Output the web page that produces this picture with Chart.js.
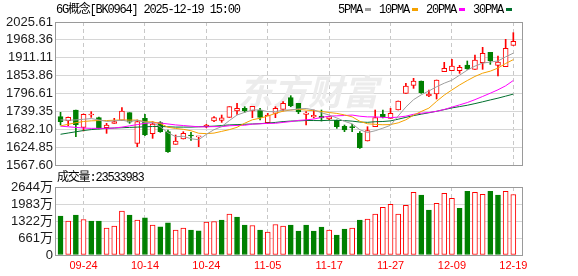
<!DOCTYPE html>
<html><head><meta charset="utf-8">
<script src="https://cdn.jsdelivr.net/npm/chart.js@4.4.1/dist/chart.umd.min.js"></script>
<style>
html,body{margin:0;padding:0;background:#fff;}
#wrap{position:relative;width:578px;height:276px;overflow:hidden;background:#fff;}
#c1{position:absolute;left:0;top:0;}
#c2{position:absolute;left:0;top:170px;}
</style></head><body>
<div id="wrap"><canvas id="c1" width="578" height="178"></canvas><canvas id="c2" width="578" height="106"></canvas></div>
<script>
const title = '6G概念[BK0964] 2025-12-19 15:00';
const volTitle = '成交量:23533983';
const watermark = '东方财富';
const maNames = ['5PMA','10PMA','20PMA','30PMA'];

const dates = ['09-19','09-22','09-23','09-24','09-25','09-26','09-29','09-30','10-09','10-10','10-13','10-14','10-15','10-16','10-17','10-20','10-21','10-22','10-23','10-24','10-27','10-28','10-29','10-30','10-31','11-03','11-04','11-05','11-06','11-07','11-10','11-11','11-12','11-13','11-14','11-17','11-18','11-19','11-20','11-21','11-24','11-25','11-26','11-27','11-28','12-01','12-02','12-03','12-04','12-05','12-08','12-09','12-10','12-11','12-12','12-15','12-16','12-17','12-18','12-19'];
const tickDates = ['09-24','10-14','10-24','11-05','11-17','11-27','12-09','12-19'];

const openP  = [1722.4,1709.6,1743.7,1688.0,1727.7,1719.2,1687.1,1701.0,1710.6,1735.2,1637.0,1717.0,1667.9,1703.2,1674.3,1633.8,1650.8,1661.5,1657.5,1689.3,1708.5,1710.6,1720.2,1740.5,1749.1,1740.5,1743.7,1703.2,1733.1,1745.9,1783.2,1765.1,1729.9,1721.3,1724.5,1714.9,1710.6,1691.4,1689.3,1669.0,1644.4,1690.3,1729.9,1717.0,1743.7,1797.1,1822.7,1836.6,1788.6,1795.0,1866.5,1869.7,1869.7,1887.9,1874.0,1895.3,1928.4,1886.8,1882.5,1950.9];
const closeP = [1706.4,1720.2,1697.0,1730.0,1727.7,1685.0,1695.7,1706.4,1740.5,1705.0,1707.0,1663.7,1698.9,1674.3,1610.3,1644.4,1669.0,1660.5,1659.0,1695.7,1719.5,1718.5,1754.4,1749.1,1740.5,1755.5,1720.2,1727.7,1749.1,1765.1,1757.6,1737.3,1734.1,1726.7,1718.1,1722.4,1690.3,1679.7,1687.1,1623.1,1677.5,1719.2,1721.3,1733.0,1772.6,1820.6,1836.6,1799.2,1795.0,1839.8,1877.2,1884.7,1880.4,1875.1,1903.9,1925.2,1901.7,1897.5,1941.2,1963.7];
const highP  = [1736.3,1721.3,1743.7,1731.0,1738.4,1721.3,1701.0,1717.0,1751.2,1735.2,1711.7,1729.9,1706.4,1706.4,1679.7,1663.7,1674.3,1672.2,1659.0,1697.8,1722.4,1727.7,1754.4,1765.1,1754.4,1755.5,1749.1,1733.1,1754.4,1770.4,1789.6,1765.1,1738.4,1743.7,1743.7,1723.4,1711.7,1695.7,1697.8,1674.3,1690.3,1743.7,1743.7,1749.1,1772.6,1829.1,1845.2,1836.6,1807.8,1839.8,1896.4,1906.0,1886.8,1900.7,1919.9,1944.4,1928.4,1916.7,1970.1,1991.4];
const lowP   = [1695.7,1693.5,1658.3,1676.5,1720.2,1682.9,1669.0,1701.0,1710.6,1701.0,1626.3,1661.5,1653.0,1672.2,1608.1,1633.8,1650.8,1646.5,1626.3,1687.1,1706.4,1704.2,1720.2,1729.9,1736.3,1719.2,1711.7,1701.0,1719.2,1740.5,1754.4,1732.0,1695.7,1718.1,1708.5,1712.8,1685.0,1674.3,1674.3,1621.0,1644.4,1690.3,1718.1,1717.0,1743.7,1797.1,1813.1,1797.1,1786.4,1779.0,1866.5,1869.7,1861.2,1874.0,1874.0,1874.0,1890.0,1852.6,1882.5,1950.9];
const volume = [1510,1316,1548,1381,1316,1316,1045,1122,1703,1548,1355,1445,1161,1096,1251,968,1045,968,940,1277,1303,1355,1587,1471,1161,1148,968,890,1187,1122,1161,929,1161,929,1084,968,774,1006,1045,1355,1393,1587,1858,1974,1587,1935,2438,2334,1742,2012,2399,2206,1819,2477,2438,2361,2477,2334,2477,2353];

const ma5  = [1712,1711,1712,1714,1716.3,1712.0,1707.1,1709.0,1711.1,1706.5,1710.9,1704.7,1703.2,1690.0,1670.8,1658.3,1659.4,1651.7,1648.6,1665.7,1680.8,1690.6,1709.9,1727.6,1736.4,1743.7,1743.9,1738.6,1738.6,1743.5,1743.9,1747.4,1748.6,1744.2,1734.8,1727.7,1718.3,1707.4,1699.5,1680.5,1671.5,1677.3,1685.6,1694.8,1724.7,1753.3,1776.8,1792.4,1804.8,1818.2,1829.6,1839.2,1855.4,1871.4,1884.3,1893.9,1897.3,1900.7,1913.9,1925.9];
const ma10 = [1693,1698,1703,1707,1709,1710,1710,1711,1712,1711.4,1711.4,1705.8,1705.9,1700.4,1688.6,1684.6,1681.9,1677.3,1669.3,1668.0,1669.8,1675.3,1680.9,1688.4,1701.4,1712.4,1717.5,1724.2,1733.1,1740.0,1743.8,1745.7,1743.6,1741.4,1739.1,1735.8,1732.8,1728.0,1721.8,1707.6,1699.6,1697.8,1696.5,1697.2,1702.6,1712.4,1727.1,1739.0,1749.8,1771.5,1791.5,1808.0,1823.9,1838.1,1851.3,1861.7,1868.2,1878.1,1892.7,1905.1];
const ma20 = [1692,1690,1688,1686,1685,1685,1685,1686,1689,1693,1697,1701,1703,1702,1699,1696,1694,1692,1690,1689.9,1690.5,1690.5,1693.3,1694.3,1694.9,1698.5,1699.7,1700.8,1701.2,1704.0,1706.7,1710.4,1712.1,1714.8,1720.1,1724.0,1725.1,1726.1,1727.5,1723.8,1721.7,1721.7,1720.1,1719.3,1720.9,1724.1,1730.0,1733.5,1735.8,1739.6,1745.5,1752.9,1760.2,1767.6,1776.9,1787.1,1797.6,1808.5,1821.2,1838.3];
const ma30 = [1666,1670,1674,1678,1681,1683,1685,1686,1687,1688,1689,1690,1691,1691,1690,1689,1689,1689,1690,1691,1692,1694,1696,1697,1698,1699,1700,1702,1704,1706.6,1708.3,1708.9,1710.1,1710.0,1709.7,1710.9,1710.7,1709.8,1708.1,1705.2,1704.3,1706.2,1706.9,1708.9,1714.3,1720.2,1725.8,1730.4,1734.9,1739.7,1745.0,1750.5,1754.7,1758.9,1764.3,1770.0,1776.0,1781.7,1788.1,1794.7];

const priceTicks = [2025.61,1968.36,1911.11,1853.86,1796.61,1739.35,1682.10,1624.85,1567.60];
const volTicks = [0,661,1322,1983,2644];

const RED = '#ff0000', GREEN = '#008000', FRAME = '#9a9a9a', GRID = '#d6d6d6', VGRID = '#c8c8c8';
const maColors = ['#9e9e9e','#f5a200','#ff00ff','#00702e'];
const X_MIN = -0.72, X_MAX = 60.13;
const tickIdx = tickDates.map(d => dates.indexOf(d));
const up = i => closeP[i] >= openP[i];
const volUp = i => {
  if (i === 0 || closeP[i] === closeP[i-1]) return up(i);
  return closeP[i] > closeP[i-1];
};
const monoFont = '12px "Liberation Mono", "Noto Sans CJK SC", monospace';

function xAxis(showLabels, h) {
  return {
    type: 'linear', min: X_MIN, max: X_MAX, offset: false,
    grid: { offset: false, drawTicks: false, lineWidth: 1,
      color: c => (c.tick && tickIdx.includes(c.tick.value)) ? VGRID : 'rgba(0,0,0,0)' },
    border: { display: false, dash: [4, 3] },
    ticks: { display: showLabels, autoSkip: false, maxRotation: 0, padding: 4, color: RED,
      font: { family: '"Liberation Sans", Arial, sans-serif', size: 11 },
      callback: v => dates[v] || '' },
    afterBuildTicks: s => { s.ticks = tickIdx.map(v => ({ value: v })); },
    afterFit: s => { s.height = h; }
  };
}

function framePlugin(id) {
  return {
    id: id,
    afterDraw(chart) {
      const { left, top, right, bottom } = chart.chartArea;
      const ctx = chart.ctx;
      ctx.save();
      ctx.strokeStyle = FRAME; ctx.lineWidth = 1;
      ctx.strokeRect(Math.round(left) + 0.5, Math.round(top) + 0.5, Math.round(right - left), Math.round(bottom - top));
      ctx.restore();
    }
  };
}

const maSets = [ma5, ma10, ma20, ma30].map((arr, k) => ({
  type: 'line', label: maNames[k], order: 0,
  data: arr.map((v, i) => ({ x: i, y: v })),
  borderColor: maColors[k], borderWidth: 1, pointRadius: 0, fill: false, tension: 0
}));

const topPlugin = {
  id: 'topText',
  beforeDatasetsDraw(chart) {
    const ctx = chart.ctx;
    ctx.save();
    ctx.font = 'italic bold 35px "Noto Sans CJK SC", sans-serif';
    ctx.fillStyle = '#ececec';
    ctx.textAlign = 'center'; ctx.textBaseline = 'middle';
    ctx.fillText(watermark, 308, 92);
    ctx.restore();
  },
  afterDraw(chart) {
    const ctx = chart.ctx;
    ctx.save();
    ctx.font = monoFont;
    try { ctx.letterSpacing = '-1.2px'; } catch (e) {}
    ctx.fillStyle = '#000'; ctx.textBaseline = 'middle'; ctx.textAlign = 'left';
    ctx.fillText(title, 56, 10);
    let x = 338;
    maNames.forEach((n, k) => {
      ctx.fillStyle = '#000';
      ctx.fillText(n, x, 10);
      x += ctx.measureText(n).width + 3;
      ctx.fillStyle = maColors[k];
      ctx.fillRect(Math.round(x), 8, 6, 3);
      x += 6 + 8;
    });
    ctx.restore();
  }
};

new Chart(document.getElementById('c1'), {
  type: 'bar',
  data: {
    datasets: [
      ...maSets,
      { type: 'bar', label: 'body', order: 1, grouped: false,
        data: dates.map((d, i) => ({ x: i, y: [openP[i], closeP[i]] })),
        barThickness: 5, minBarLength: 1, borderWidth: 1, borderSkipped: false,
        backgroundColor: c => up(c.dataIndex) ? '#ffffff' : GREEN,
        borderColor: c => up(c.dataIndex) ? RED : GREEN },
      { type: 'bar', label: 'wick', order: 2, grouped: false,
        data: dates.map((d, i) => ({ x: i, y: [lowP[i], highP[i]] })),
        barThickness: 1, borderWidth: 0,
        backgroundColor: c => up(c.dataIndex) ? RED : GREEN }
    ]
  },
  options: {
    responsive: false, animation: false, events: [],
    layout: { padding: { top: 22, right: 56, bottom: 13, left: 0 } },
    plugins: { legend: { display: false }, tooltip: { enabled: false } },
    scales: {
      x: xAxis(false, 0),
      y: {
        min: 1567.60, max: 2025.61,
        grid: { color: GRID, drawTicks: false, lineWidth: 1 },
        border: { display: false },
        ticks: { autoSkip: false, padding: 2, color: '#1a1a1a', font: { family: '"Liberation Sans", Arial, sans-serif', size: 13 },
          callback: v => Number(v).toFixed(2) },
        afterBuildTicks: s => { s.ticks = priceTicks.map(v => ({ value: v })); },
        afterFit: s => { s.width = 55; }
      }
    }
  },
  plugins: [topPlugin, framePlugin('frame1')]
});

const volPlugin = {
  id: 'volText',
  afterDraw(chart) {
    const ctx = chart.ctx;
    ctx.save();
    ctx.font = monoFont;
    try { ctx.letterSpacing = '-1.2px'; } catch (e) {}
    ctx.fillStyle = '#000'; ctx.textBaseline = 'middle'; ctx.textAlign = 'left';
    ctx.fillText(volTitle, 57, 8);
    ctx.restore();
  }
};

new Chart(document.getElementById('c2'), {
  type: 'bar',
  data: {
    datasets: [
      { label: 'volume', grouped: false,
        data: volume.map((v, i) => ({ x: i, y: v })),
        barThickness: 5, borderWidth: 1, borderSkipped: false,
        backgroundColor: c => volUp(c.dataIndex) ? '#ffffff' : GREEN,
        borderColor: c => volUp(c.dataIndex) ? RED : GREEN }
    ]
  },
  options: {
    responsive: false, animation: false, events: [],
    layout: { padding: { top: 17, right: 56, bottom: 0, left: 0 } },
    plugins: { legend: { display: false }, tooltip: { enabled: false } },
    scales: {
      x: xAxis(true, 21),
      y: {
        min: 0, max: 2644,
        grid: { color: GRID, drawTicks: false, lineWidth: 1 },
        border: { display: false },
        ticks: { autoSkip: false, padding: 2, color: '#1a1a1a', font: { family: '"Liberation Sans", "Noto Sans CJK SC", Arial, sans-serif', size: 13 },
          callback: v => v === 0 ? '0' : v + '万' },
        afterBuildTicks: s => { s.ticks = volTicks.map(v => ({ value: v })); },
        afterFit: s => { s.width = 55; }
      }
    }
  },
  plugins: [volPlugin, framePlugin('frame2')]
});
</script>
</body></html>
